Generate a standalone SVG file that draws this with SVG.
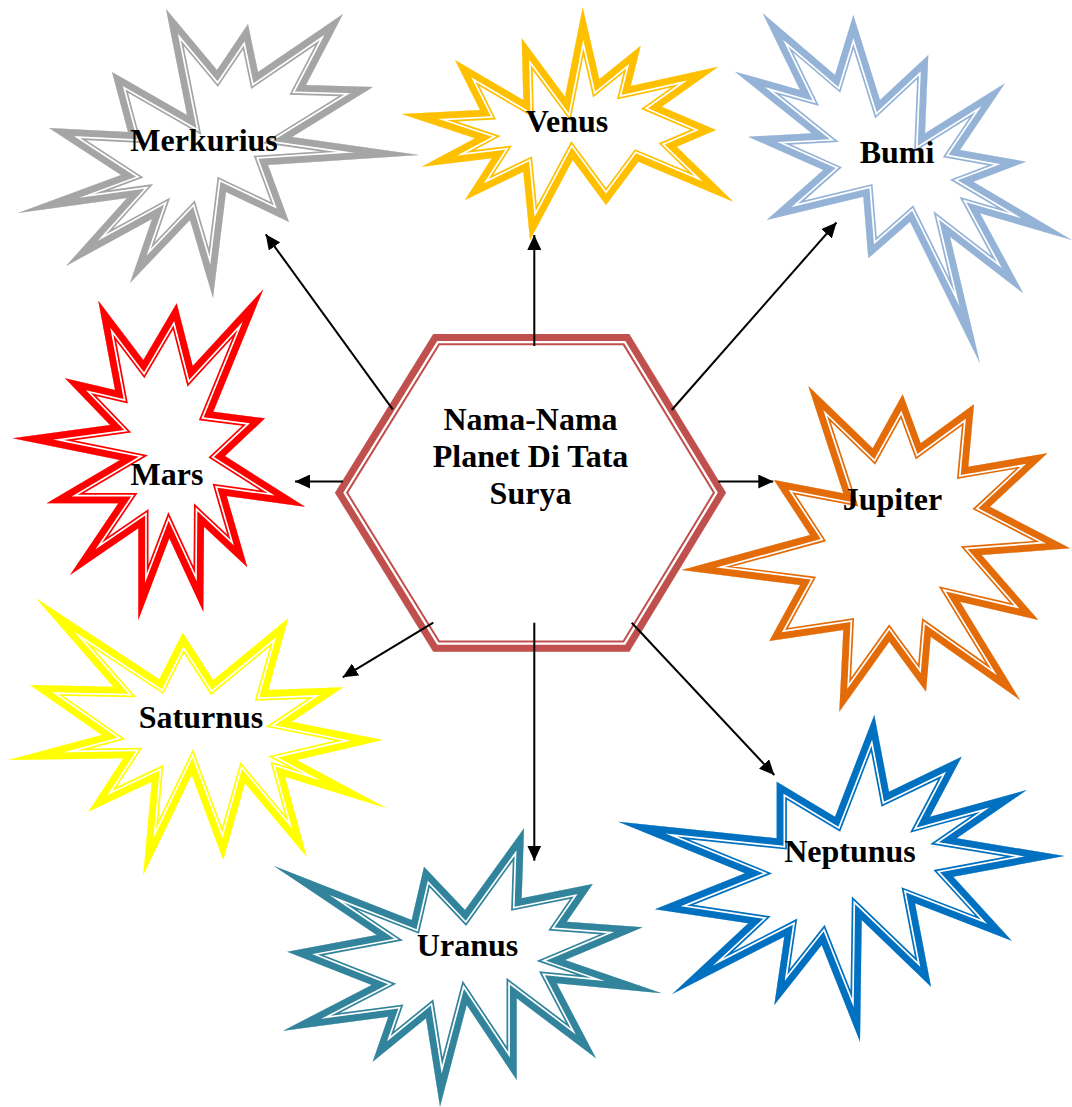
<svg xmlns="http://www.w3.org/2000/svg" xmlns:xlink="http://www.w3.org/1999/xlink" width="1072" height="1107" viewBox="0 0 1072 1107">
<style>
.o{fill:#fff;stroke-width:20.4;stroke-linejoin:miter;stroke-miterlimit:40}
.g{fill:none;stroke:#fff;stroke-width:17;stroke-linejoin:miter;stroke-miterlimit:40}
.t{fill:none;stroke-width:13.6;stroke-linejoin:miter;stroke-miterlimit:40}
.ho{fill:#fff;stroke-width:22.6;stroke-linejoin:miter}
.hg{fill:none;stroke:#fff;stroke-width:18.6;stroke-linejoin:miter}
.ht{fill:none;stroke-width:14;stroke-linejoin:miter}
.lbl{font-family:"Liberation Serif","Times New Roman",serif;font-weight:bold;font-size:32px;text-anchor:middle;fill:#000}
#connectors line{stroke:#000;stroke-width:2;marker-end:url(#ah)}
</style>
<defs>
<marker id="ah" markerUnits="userSpaceOnUse" markerWidth="15" markerHeight="14" refX="15" refY="7" orient="auto" viewBox="0 0 15 14"><path d="M0,0 L15,7 L0,14 Z" fill="#000"/></marker>
<path id="s1" d="M166,9 L217,70 L248,24 L258,72 L343,14 L306,85 L373,87 L292,137 L419,155 L268,165 L289,222 L226,192 L213,298 L190,220 L130,283 L152,219 L66,266 L127,198 L18,213 L121,175 L49,128 L128,132 L112,72 L187,115 Z"/>
<path id="s2" d="M582.7,7.3 L599.3,79.3 L640.7,45.7 L630.7,86 L718.3,66.7 L661.7,106.7 L716,130 L676.7,146.7 L733.3,201.7 L638.3,161.7 L606,205 L572.7,160 L530,240 L523.3,171.7 L465,200 L491.7,158.3 L421.7,166.7 L475,138.3 L401.7,114 L480,110 L455,60 L523.3,100 L521.7,38.3 L565,96.7 Z"/>
<path id="s3" d="M762.7,13.3 L835,75 L853.3,15 L880,100 L928.3,55 L925,133.3 L1005,83.3 L960,150 L1026,161.7 L973.3,181.7 L1071.7,240 L980,213.3 L1023.3,293.3 L950,236.7 L980,363.3 L910,221.7 L868.3,258.3 L863.3,196.7 L766.7,220 L823.3,170 L748.3,136.7 L811.7,133.3 L735,71.7 L800,90 Z"/>
<path id="s4" d="M98.3,300.7 L143.3,360 L176.7,303.3 L192.7,366 L263.3,289.3 L213.3,411.7 L265,418.3 L225,456 L305,506.7 L226.7,496 L247.3,567.3 L204,526.7 L203.3,611.7 L169.3,538.3 L138.3,620 L138.3,528.3 L70,575 L118.3,503.3 L46.7,503.3 L120,460 L12.7,438.3 L110,425 L65,378.3 L115,390 Z"/>
<path id="s5" d="M36,598.3 L159.3,679.3 L182.7,632.7 L213.3,680 L288.3,618.3 L268.3,690 L343.3,687.3 L291.7,721.7 L382.7,740 L296.7,760 L386.7,808.3 L285,776.7 L306.7,856.7 L245,783.3 L223.3,860 L191.7,775 L143.3,875 L151.7,781.7 L88.3,811.7 L123.3,758.3 L8.3,760 L101.7,735 L30,685 L113.3,686.7 Z"/>
<path id="s6" d="M524,828.3 L521.7,898.3 L592.7,884 L566.7,921.7 L642.7,927.3 L565,960 L661.7,993.3 L556.7,983.3 L596,1058.3 L516.7,998.3 L516.7,1080 L466.7,1005 L440,1106.7 L426,1018.3 L372.7,1061.7 L388.3,1016.7 L283.3,1030.7 L371.7,985 L287.3,951.7 L376.7,935 L274,866 L411.7,920 L424,866.7 L465,910 Z"/>
<path id="s7" d="M808.3,386 L872.7,448.3 L902.7,394.3 L920.7,443.3 L974,404.3 L968.3,466.7 L1047.3,453.3 L990,506.7 L1070,548.3 L981.7,555 L1038.3,620 L960,601.7 L1020,700 L930.7,636.7 L926,691.7 L889.3,641.7 L839.3,711.7 L843.3,630 L769.3,641 L800,585 L681.7,570 L810,535 L774,480 L843.3,493.3 Z"/>
<path id="s8" d="M874.3,715 L889,791.7 L961.7,756.7 L930,816.7 L1026.7,790 L956.7,838.3 L1064.3,856 L953.3,876.7 L1011.7,940.7 L915,903.3 L931,986.7 L861.7,920 L860,1041.7 L821.7,945 L774.3,1005 L784.3,936.7 L672.3,994 L748.3,923.3 L655,909.3 L745,873.3 L618.3,821.7 L776.7,838.3 L776.7,781.7 L835,816.7 Z"/>
<path id="hx" d="M433.3,334 L629.3,334 L726,492.7 L629.3,651.7 L433.3,651.7 L335,492.7 Z"/>
<clipPath id="c1"><use href="#s1"/></clipPath>
<clipPath id="c2"><use href="#s2"/></clipPath>
<clipPath id="c3"><use href="#s3"/></clipPath>
<clipPath id="c4"><use href="#s4"/></clipPath>
<clipPath id="c5"><use href="#s5"/></clipPath>
<clipPath id="c6"><use href="#s6"/></clipPath>
<clipPath id="c7"><use href="#s7"/></clipPath>
<clipPath id="c8"><use href="#s8"/></clipPath>
<clipPath id="ch"><use href="#hx"/></clipPath>
</defs>
<rect width="1072" height="1107" fill="#fff"/>

<g id="merkurius">
<g clip-path="url(#c1)" stroke="#A5A5A5"><use href="#s1" class="o"/><use href="#s1" class="g"/><use href="#s1" class="t"/></g>
<text class="lbl" x="204" y="151">Merkurius</text>
</g>
<g id="venus">
<g clip-path="url(#c2)" stroke="#FFC000"><use href="#s2" class="o"/><use href="#s2" class="g"/><use href="#s2" class="t"/></g>
<text class="lbl" x="567" y="132">Venus</text>
</g>
<g id="bumi">
<g clip-path="url(#c3)" stroke="#95B3D7"><use href="#s3" class="o"/><use href="#s3" class="g"/><use href="#s3" class="t"/></g>
<text class="lbl" x="897" y="163">Bumi</text>
</g>
<g id="mars">
<g clip-path="url(#c4)" stroke="#FF0000"><use href="#s4" class="o"/><use href="#s4" class="g"/><use href="#s4" class="t"/></g>
<text class="lbl" x="167" y="485">Mars</text>
</g>
<g id="saturnus">
<g clip-path="url(#c5)" stroke="#FFFF00"><use href="#s5" class="o"/><use href="#s5" class="g"/><use href="#s5" class="t"/></g>
<text class="lbl" x="201" y="728">Saturnus</text>
</g>
<g id="uranus">
<g clip-path="url(#c6)" stroke="#31849B"><use href="#s6" class="o"/><use href="#s6" class="g"/><use href="#s6" class="t"/></g>
<text class="lbl" x="467.5" y="956">Uranus</text>
</g>
<g id="jupiter">
<g clip-path="url(#c7)" stroke="#E36C09"><use href="#s7" class="o"/><use href="#s7" class="g"/><use href="#s7" class="t"/></g>
<text class="lbl" x="892.5" y="510">Jupiter</text>
</g>
<g id="neptunus">
<g clip-path="url(#c8)" stroke="#0070C0"><use href="#s8" class="o"/><use href="#s8" class="g"/><use href="#s8" class="t"/></g>
<text class="lbl" x="850" y="862">Neptunus</text>
</g>
<g id="center">
<g clip-path="url(#ch)" stroke="#C0504D"><use href="#hx" class="ho"/><use href="#hx" class="hg"/><use href="#hx" class="ht"/></g>
<text class="lbl" x="530.5" y="430">Nama-Nama</text>
<text class="lbl" x="530.5" y="467">Planet Di Tata</text>
<text class="lbl" x="530.5" y="504">Surya</text>
</g>

<g id="connectors">
<line x1="392.7" y1="409.3" x2="265.7" y2="234.3"/>
<line x1="534.3" y1="346" x2="534.3" y2="235"/>
<line x1="671.7" y1="410" x2="836.5" y2="222.5"/>
<line x1="343" y1="481.5" x2="295" y2="481.5"/>
<line x1="718.3" y1="481.5" x2="773.3" y2="481.5"/>
<line x1="433.3" y1="622.7" x2="342.7" y2="677.3"/>
<line x1="534.3" y1="622.7" x2="534.3" y2="860.7"/>
<line x1="631.7" y1="622.7" x2="774.3" y2="775"/>
</g>
</svg>
